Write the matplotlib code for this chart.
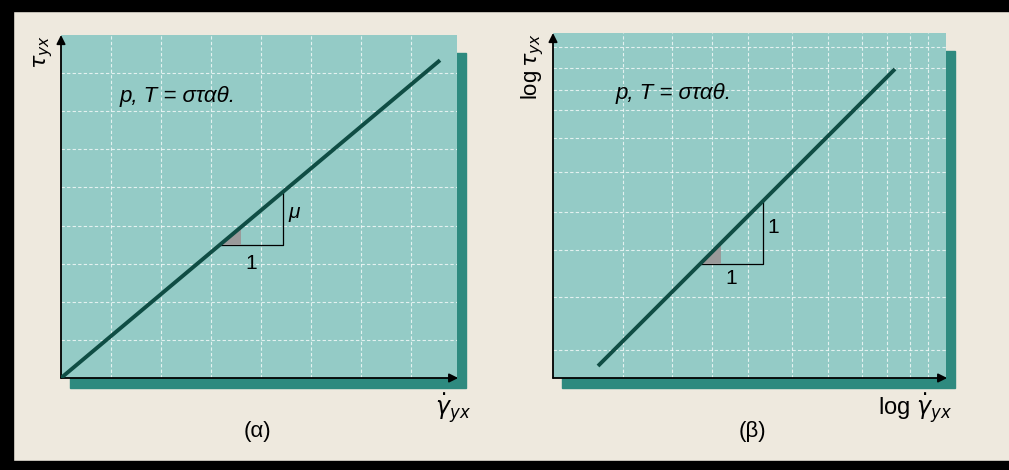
import matplotlib.pyplot as plt
from matplotlib.patches import Rectangle

plt.rcParams["font.family"] = ["Liberation Sans", "DejaVu Sans"]
plt.rcParams["mathtext.fontset"] = "dejavusans"

# (a) linear plot: one grid unit per division
lin_grid_x = [1, 2, 3, 4, 5, 6, 7]
lin_grid_y = [1, 2, 3, 4, 5, 6, 7, 8]
lin_xlim = (0, 7.92)
lin_ylim = (0, 9.0)
mu = 1.1
lin_gamma = [0.0, 7.58]
lin_slope_x = [3.18, 4.44]

# (b) log-log plot: positions in log units
log_grid_x = [0.70, 1.19, 1.59, 1.95, 2.39, 2.75, 3.09, 3.34, 3.57, 3.75]
log_grid_y = [0.28, 0.81, 1.28, 1.66, 2.06, 2.40, 2.68, 2.88, 3.10, 3.31]
log_xlim = (0, 3.93)
log_ylim = (0, 3.45)
log_offset = -0.33
log_gamma = [0.45, 3.42]
log_slope_x = [1.47, 2.10]

PAPER = "#eee9de"
TEAL = "#94cbc6"
SHADOW = "#2e8a7f"
LINE = "#0f4d44"

W, H = 1009, 470
fig = plt.figure(figsize=(W / 100, H / 100), dpi=100)
fig.patch.set_facecolor(PAPER)

# scan frame
for x0, y0, w, h in [(0, H - 11, W, 11), (0, 0, 13, H), (0, 0, W, 9)]:
    fig.add_artist(Rectangle((x0 / W, y0 / H), w / W, h / H,
                             transform=fig.transFigure, color="black", zorder=5))


def make_panel(px_left, px_top, px_w, px_h):
    ax = fig.add_axes([px_left / W, (H - px_top - px_h) / H, px_w / W, px_h / H])
    ax.set_zorder(1)
    ax.set_facecolor(TEAL)
    # drop shadow to the right and below
    fig.add_artist(Rectangle(((px_left + 9) / W, (H - px_top - px_h - 10) / H),
                             px_w / W, (px_h - 8) / H,
                             transform=fig.transFigure, color=SHADOW, zorder=0.5))
    for s in ax.spines.values():
        s.set_visible(False)
    ax.set_xticks([])
    ax.set_yticks([])
    arrow = dict(arrowstyle="-|>", lw=1.3, color="black", mutation_scale=13,
                 shrinkA=0, shrinkB=0)
    ax.annotate("", xy=(0, 1), xytext=(0, 0), xycoords="axes fraction", arrowprops=arrow)
    ax.annotate("", xy=(1.003, 0), xytext=(0, 0), xycoords="axes fraction", arrowprops=arrow)
    return ax


def draw_grid(ax, xs, ys):
    for x in xs:
        ax.axvline(x, color="white", lw=0.8, ls=(0, (3, 2)), alpha=0.75, zorder=1)
    for y in ys:
        ax.axhline(y, color="white", lw=0.8, ls=(0, (3, 2)), alpha=0.75, zorder=1)


def slope_triangle(ax, xs, f):
    x0, x1 = xs
    y0, y1 = f(x0), f(x1)
    ax.plot([x0, x1, x1], [y0, y0, y1], color="black", lw=0.9, zorder=2)
    d = (x1 - x0) * 0.33
    ax.fill([x0, x0 + d, x0 + d], [y0, y0, f(x0 + d)], color="#9a9a9a", lw=0, zorder=2)
    return x0, x1, y0, y1


# ---- (a) ----
ax1 = make_panel(61, 35, 396, 343)
ax1.set_xlim(*lin_xlim)
ax1.set_ylim(*lin_ylim)
draw_grid(ax1, lin_grid_x, lin_grid_y)
ax1.plot(lin_gamma, [mu * g for g in lin_gamma], color=LINE, lw=2.8,
         solid_capstyle="butt", zorder=3)
x0, x1, y0, y1 = slope_triangle(ax1, lin_slope_x, lambda g: mu * g)
ax1.text(x1 + 0.1, (y0 + y1) / 2 + 0.15, "μ", fontsize=15, style="italic",
         ha="left", va="center")
ax1.text((x0 + x1) / 2, y0 - 0.5, "1", fontsize=15, ha="center", va="center")
ax1.text(0.149, 0.82, "p, T = σταθ.", transform=ax1.transAxes, fontsize=16,
         style="italic", ha="left", va="center")
ax1.text(-0.045, 1.0, r"$\tau_{yx}$", transform=ax1.transAxes, fontsize=16,
         rotation=90, ha="center", va="top")
ax1.text(0.99, -0.09, r"$\dot{\gamma}_{yx}$", transform=ax1.transAxes,
         fontsize=17, ha="center", va="center")
ax1.text(0.495, -0.155, "(α)", transform=ax1.transAxes, fontsize=16,
         ha="center", va="center")

# ---- (b) ----
ax2 = make_panel(553, 33, 393, 345)
ax2.set_xlim(*log_xlim)
ax2.set_ylim(*log_ylim)
draw_grid(ax2, log_grid_x, log_grid_y)
ax2.plot(log_gamma, [g + log_offset for g in log_gamma], color=LINE, lw=2.8,
         solid_capstyle="butt", zorder=3)
x0, x1, y0, y1 = slope_triangle(ax2, log_slope_x, lambda g: g + log_offset)
ax2.text(x1 + 0.04, (y0 + y1) / 2 + 0.05, "1", fontsize=15, ha="left", va="center")
ax2.text((x0 + x1) / 2, y0 - 0.15, "1", fontsize=15, ha="center", va="center")
ax2.text(0.158, 0.826, "p, T = σταθ.", transform=ax2.transAxes, fontsize=16,
         style="italic", ha="left", va="center")
ax2.text(-0.053, 1.0, r"log$\,\tau_{yx}$", transform=ax2.transAxes, fontsize=16,
         rotation=90, ha="center", va="top")
ax2.text(0.92, -0.09, r"log $\dot{\gamma}_{yx}$", transform=ax2.transAxes,
         fontsize=17, ha="center", va="center")
ax2.text(0.508, -0.155, "(β)", transform=ax2.transAxes, fontsize=16,
         ha="center", va="center")

fig.savefig("out.png", dpi=100, facecolor=fig.get_facecolor())
